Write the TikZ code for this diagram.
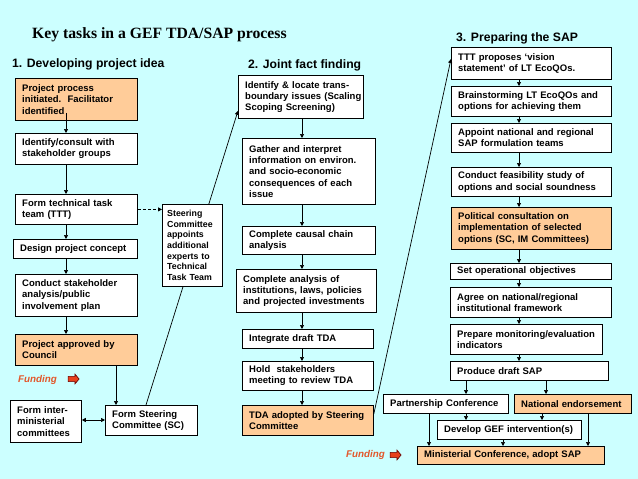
\documentclass[tikz,border=0pt]{standalone}
\usepackage{fontspec}
\setmainfont{Liberation Sans}
\newfontfamily\titlefont{Liberation Serif}
\usetikzlibrary{arrows.meta,shapes.arrows}
\definecolor{bgcyan}{RGB}{204,255,255}
\definecolor{peach}{RGB}{255,204,153}
\definecolor{fundtxt}{RGB}{226,87,43}
\definecolor{fundarr}{RGB}{232,64,28}
% box: name, x1, y1, x2, y2, style, text
\newcommand\bx[7]{%
  \pgfmathsetmacro\bxw{#4-#2}\pgfmathsetmacro\bxh{#5-#3}%
  \node[#6, anchor=north west, minimum width=\bxw pt, minimum height=\bxh pt] (#1) at (#2,#3) {};
  \node[boxtext, text width=\bxw pt] (#1t) at ([xshift=7]#1.west) {#7};}
\tikzset{
  boxw/.style={draw=black, line width=0.8pt, fill=white, inner sep=0pt},
  boxo/.style={boxw, fill=peach},
  boxtext/.style={anchor=west, inner sep=0pt, align=left,
    font=\fontsize{9.5}{11.3}\selectfont\bfseries},
  arr/.style={line width=0.7pt, -{Triangle[length=4pt,width=4pt]}},
  hdr/.style={font=\fontsize{12.2}{14}\selectfont\bfseries, anchor=west, inner sep=0pt},
  fund/.style={font=\fontsize{9.8}{12}\selectfont\bfseries\itshape, text=fundtxt, inner sep=0pt},
  fundarrow/.style={single arrow, draw=black!60!red, fill=fundarr, line width=0.6pt,
    minimum height=11pt, inner xsep=0pt, inner ysep=2.3pt, single arrow head extend=2.3pt,
    single arrow tip angle=100}
}
\begin{document}
\begin{tikzpicture}[x=1pt,y=-1pt]
\useasboundingbox (0,0) rectangle (638,479);
\fill[bgcyan] (0,0) rectangle (638,479);
\node[font=\titlefont\fontsize{15.7}{18}\selectfont\bfseries, anchor=west, inner sep=0pt] (title) at (32,35) {Key tasks in a GEF TDA/SAP process};
\node[hdr] (h1) at (12,64) {1. Developing project idea};
\node[hdr] (h2) at (248,65) {2. Joint fact finding};
\node[hdr] (h3) at (456,38) {3. Preparing the SAP};
% column 1
\bx{a1}{15}{78}{137}{120}{boxo}{Project process\\initiated.\ \ Facilitator\\identified}
\bx{a2}{15}{133}{137}{164}{boxw}{Identify/consult with\\stakeholder groups}
\bx{a3}{15}{194}{137}{224}{boxw}{Form technical task\\team (TTT)}
\bx{a4}{13}{239}{137}{258}{boxw}{Design project concept}
\bx{a5}{15}{274}{137}{316}{boxw}{Conduct stakeholder\\analysis/public\\involvement plan}
\bx{a6}{15}{334}{137}{365}{boxo}{Project approved by\\Council}
\bx{a7}{10}{400}{81}{442}{boxw}{Form inter-\\ministerial\\committees}
\bx{a8}{105}{405}{197}{435}{boxw}{Form Steering\\Committee (SC)}
% column 2
\bx{b1}{238}{75}{363}{118}{boxw}{Identify \& locate trans-\\boundary issues (Scaling\\Scoping Screening)}
\bx{b2}{242}{138}{375}{204}{boxw}{Gather and interpret\\information on environ.\\and socio-economic\\consequences of each\\issue}
\bx{b3}{242}{226}{375}{254}{boxw}{Complete causal chain\\analysis}
\bx{b4}{236}{269}{376}{312}{boxw}{Complete analysis of\\institutions, laws, policies\\and projected investments}
\bx{b5}{242}{329}{373}{348}{boxw}{Integrate draft TDA}
\bx{b6}{242}{361}{373}{390}{boxw}{Hold\ \ stakeholders\\meeting to review TDA}
\bx{b7}{242}{405}{373}{435}{boxo}{TDA adopted by Steering\\Committee}
% column 3
\bx{c1}{451}{47}{611}{79}{boxw}{TTT proposes ‘vision\\statement’ of LT EcoQOs.}
\bx{c2}{451}{86}{611}{116}{boxw}{Brainstorming LT EcoQOs and\\options for achieving them}
\bx{c3}{451}{123}{611}{152}{boxw}{Appoint national and regional\\SAP formulation teams}
\bx{c4}{451}{167}{611}{196}{boxw}{Conduct feasibility study of\\options and social soundness}
\bx{c5}{451}{207}{611}{249}{boxo}{Political consultation on\\implementation of selected\\options (SC, IM Committees)}
\bx{c6}{450}{263}{611}{279}{boxw}{Set operational objectives}
\bx{c7}{450}{287}{611}{317}{boxw}{Agree on national/regional\\institutional framework}
\bx{c8}{450}{324}{602}{354}{boxw}{Prepare monitoring/evaluation\\indicators}
\bx{c9}{450}{361}{608}{380}{boxw}{Produce draft SAP}
\bx{c10}{383}{394}{508}{413}{boxw}{Partnership Conference}
\bx{c11}{514}{394}{631}{413}{boxo}{National endorsement}
\bx{c12}{437}{420}{581}{439}{boxw}{Develop GEF intervention(s)}
\bx{c13}{417}{446}{604}{464}{boxo}{Ministerial Conference, adopt SAP}
% long connectors (behind the steering committee box)
\draw[arr] ([xshift=41]a8.north west) -- ([yshift=8]b1.south west);
\draw[arr] ([yshift=-9]b7.north east) -- ([yshift=-12]c1.north west);
% steering committee side box
\node[boxw, anchor=north west, minimum width=60pt, minimum height=82pt] (sc) at (162,204) {};
\node[boxtext, text width=60pt, font=\fontsize{8.8}{10.6}\selectfont\bfseries] (sct) at ([xshift=5]sc.west)
  {Steering\\Committee\\appoints\\additional\\experts to\\Technical\\Task Team};
\draw[arr, dashed, dash pattern=on 3pt off 2pt] (a3.east) -- (sc.west |- a3.east);
% column 1 arrows
\coordinate (a1s) at ([xshift=51,yshift=8]a1.south west);
\draw[arr] (a1s) -- (a1s |- a2.north);
\draw[arr] (a2.south -| a1s) -- (a3.north -| a1s);
\draw[arr] (a3.south -| a1s) -- (a4.north -| a1s);
\draw[arr] (a4.south -| a1s) -- (a5.north -| a1s);
\draw[arr] (a5.south -| a1s) -- (a6.north -| a1s);
\coordinate (a6s) at ([xshift=101]a6.south west);
\draw[arr] (a6s) -- (a6s |- a8.north);
\coordinate (dblrow) at (0,420);
\draw[line width=0.7pt, {Triangle[length=4pt,width=4pt]}-{Triangle[length=4pt,width=4pt]}] (a7.east |- dblrow) -- (a8.west |- dblrow);
% column 2 arrows
\coordinate (colb) at ([xshift=64]b1.south west);
\draw[arr] (colb) -- (colb |- b2.north);
\draw[arr] (b2.south -| colb) -- (b3.north -| colb);
\draw[arr] (b3.south -| colb) -- (b4.north -| colb);
\draw[arr] (b4.south -| colb) -- (b5.north -| colb);
\draw[arr] (b5.south -| colb) -- (b6.north -| colb);
\draw[arr] (b6.south -| colb) -- (b7.north -| colb);
% column 3 arrows
\coordinate (colc) at ([xshift=68]c1.south west);
\draw[arr] (colc) -- (colc |- c2.north);
\draw[arr] (c2.south -| colc) -- (c3.north -| colc);
\draw[arr] (c3.south -| colc) -- (c4.north -| colc);
\draw[arr] (c4.south -| colc) -- (c5.north -| colc);
\draw[arr] (c5.south -| colc) -- (c6.north -| colc);
\draw[arr] (c6.south -| colc) -- (c7.north -| colc);
\draw[arr] (c7.south -| colc) -- (c8.north -| colc);
\draw[arr] (c8.south -| colc) -- (c9.north -| colc);
\coordinate (k1) at ([xshift=16]c9.south west);
\coordinate (k2) at ([xshift=96]c9.south west);
\coordinate (k3) at ([xshift=28]c11.south west);
\coordinate (k4) at ([xshift=46]c10.south west);
\coordinate (k5) at ([xshift=74]c11.south west);
\coordinate (k6) at ([xshift=66]c12.south west);
\draw[arr] (k1) -- (k1 |- c10.north);
\draw[arr] (k2) -- (k2 |- c11.north);
\draw[arr] (c10.south -| k1) -- (c12.north -| k1);
\draw[arr] (k3) -- (k3 |- c12.north);
\draw[arr] (k4) -- (k4 |- c13.north);
\draw[arr] (k5) -- (k5 |- c13.north);
\draw[arr] (k6) -- (k6 |- c13.north);
% funding
\node[fund, anchor=west] (f1) at (18,380) {Funding};
\node[fundarrow] (f1a) at (72.5,379) {};
\node[fund, anchor=east] (f2) at (385,455) {Funding};
\node[fundarrow] (f2a) at (394.5,455) {};
\end{tikzpicture}
\end{document}
